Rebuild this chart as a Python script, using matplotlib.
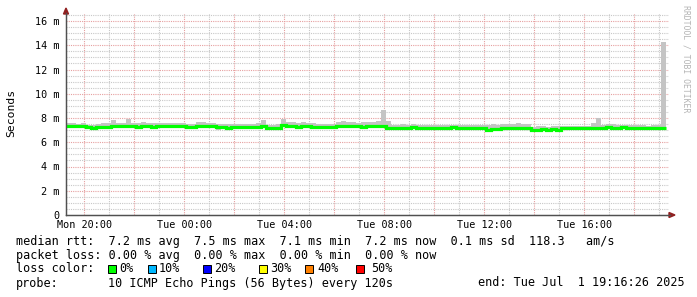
import numpy as np
import matplotlib
matplotlib.use("Agg")
import matplotlib.pyplot as plt
from matplotlib.patches import Rectangle, Polygon

# ---------------- data (24 h, 12-minute bins) ----------------
t_start = 19 + 16 / 60 + 26 / 3600      # Mon 19:16:26 (hours since Mon 00:00)
t_end = t_start + 24.0                  # Tue 19:16:26

median_ms = [
    7.36, 7.38, 7.34, 7.36, 7.22, 7.20, 7.24, 7.26, 7.25, 7.32,
    7.34, 7.30, 7.33, 7.30, 7.28, 7.32, 7.30, 7.27, 7.30, 7.37,
    7.38, 7.35, 7.37, 7.36, 7.25, 7.24, 7.35, 7.34, 7.36, 7.33,
    7.22, 7.24, 7.21, 7.23, 7.27, 7.26, 7.28, 7.25, 7.27, 7.30,
    7.15, 7.14, 7.16, 7.45, 7.30, 7.32, 7.29, 7.31, 7.30, 7.28,
    7.28, 7.27, 7.29, 7.28, 7.30, 7.32, 7.30, 7.30, 7.31, 7.29,
    7.30, 7.32, 7.33, 7.32, 7.20, 7.20, 7.19, 7.21, 7.20, 7.22,
    7.20, 7.19, 7.21, 7.20, 7.21, 7.19, 7.20, 7.22, 7.20, 7.19,
    7.20, 7.21, 7.20, 7.19, 7.05, 7.06, 7.07, 7.15, 7.17, 7.16,
    7.18, 7.20, 7.19, 7.05, 7.04, 7.06, 7.05, 7.07, 7.05, 7.15,
    7.14, 7.16, 7.15, 7.14, 7.16, 7.18, 7.20, 7.20, 7.22, 7.21,
    7.20, 7.22, 7.21, 7.20, 7.21, 7.20, 7.19, 7.20, 7.21, 7.20,
]
smoke_hi = [
    7.55, 7.62, 7.52, 7.58, 7.45, 7.42, 7.50, 7.58, 7.55, 7.85,
    7.60, 7.62, 7.88, 7.60, 7.55, 7.65, 7.58, 7.62, 7.55, 7.58,
    7.60, 7.55, 7.62, 7.58, 7.50, 7.48, 7.65, 7.70, 7.60, 7.62,
    7.50, 7.48, 7.52, 7.50, 7.50, 7.52, 7.48, 7.50, 7.55, 7.85,
    7.45, 7.42, 7.48, 7.88, 7.65, 7.70, 7.60, 7.68, 7.62, 7.60,
    7.50, 7.52, 7.48, 7.50, 7.70, 7.72, 7.68, 7.65, 7.62, 7.68,
    7.65, 7.70, 7.72, 8.68, 7.75, 7.45, 7.42, 7.48, 7.45, 7.50,
    7.44, 7.42, 7.46, 7.42, 7.45, 7.40, 7.44, 7.42, 7.46, 7.40,
    7.43, 7.42, 7.45, 7.41, 7.45, 7.50, 7.42, 7.48, 7.52, 7.50,
    7.55, 7.50, 7.52, 7.28, 7.30, 7.32, 7.28, 7.30, 7.30, 7.35,
    7.38, 7.34, 7.36, 7.35, 7.38, 7.55, 8.00, 7.45, 7.48, 7.50,
    7.44, 7.46, 7.45, 7.40, 7.42, 7.40, 7.38, 7.42, 7.45, 14.30,
]
smoke_lo = [
    7.20, 7.22, 7.18, 7.20, 7.06, 7.04, 7.08, 7.10, 7.10, 7.16,
    7.18, 7.14, 7.16, 7.14, 7.12, 7.16, 7.14, 7.10, 7.14, 7.22,
    7.22, 7.20, 7.22, 7.20, 7.08, 7.08, 7.18, 7.18, 7.20, 7.16,
    7.05, 7.08, 7.04, 7.06, 7.10, 7.10, 7.12, 7.08, 7.10, 7.14,
    6.98, 6.98, 7.00, 7.28, 7.14, 7.16, 7.12, 7.14, 7.14, 7.12,
    7.12, 7.10, 7.12, 7.12, 7.14, 7.16, 7.14, 7.14, 7.14, 7.12,
    7.14, 7.16, 7.16, 7.14, 7.04, 7.04, 7.02, 7.04, 7.04, 7.06,
    7.04, 7.02, 7.04, 7.04, 7.04, 7.02, 7.04, 7.06, 7.04, 7.02,
    7.04, 7.04, 7.04, 7.02, 6.88, 6.90, 6.90, 6.98, 7.00, 7.00,
    7.02, 7.04, 7.02, 6.88, 6.88, 6.90, 6.88, 6.90, 6.88, 6.98,
    6.98, 7.00, 6.98, 6.98, 7.00, 7.02, 7.04, 7.04, 7.06, 7.04,
    7.04, 7.06, 7.04, 7.04, 7.04, 7.04, 7.02, 7.04, 7.04, 7.04,
]

y_ticks = [0, 2, 4, 6, 8, 10, 12, 14, 16]
y_tick_labels = ["0", "2 m", "4 m", "6 m", "8 m", "10 m", "12 m", "14 m", "16 m"]
x_ticks = [20, 24, 28, 32, 36, 40]
x_tick_labels = ["Mon 20:00", "Tue 00:00", "Tue 04:00", "Tue 08:00", "Tue 12:00", "Tue 16:00"]

loss_labels = ["0%", "10%", "20%", "30%", "40%", "50%"]
loss_colors = ["#00ff00", "#00b8ff", "#0000ff", "#ffff00", "#ff8000", "#ff0000"]

legend_rtt = "median rtt:  7.2 ms avg  7.5 ms max  7.1 ms min  7.2 ms now  0.1 ms sd  118.3   am/s"
legend_loss = "packet loss: 0.00 % avg  0.00 % max  0.00 % min  0.00 % now"
probe_text = "10 ICMP Echo Pings (56 Bytes) every 120s"
end_text = "end: Tue Jul  1 19:16:26 2025"

# ---------------- figure ----------------
W, H = 697, 297
MONO = "DejaVu Sans Mono"
fig = plt.figure(figsize=(W / 100, H / 100), dpi=100)
fig.patch.set_facecolor("white")

L, R, T, B = 66, 669, 13, 215
ax = fig.add_axes([L / W, (H - B) / H, (R - L) / W, (B - T) / H])
ax.set_facecolor("white")
px_per_h = 25.0
px_per_m = 12.125
ax.set_xlim(t_start, t_start + (R - L) / px_per_h)
ax.set_ylim(0, (B - T) / px_per_m)

# grid
dot = (0, (1, 1))
for h in range(20, 44):
    if h % 2 == 0:
        ax.axvline(h, color="#e6a0a0", lw=0.8, ls=dot, zorder=1)
    else:
        ax.axvline(h, color="#c8c8c8", lw=0.8, ls=dot, zorder=1)
for k in range(1, 34):
    v = k * 0.5
    if k % 4 == 0:
        ax.axhline(v, color="#e6a0a0", lw=0.8, ls=dot, zorder=1)
    else:
        ax.axhline(v, color="#c8c8c8", lw=0.8, ls=dot, zorder=1)

edges = np.linspace(t_start, t_end, len(median_ms) + 1)
ax.stairs(smoke_hi, edges, baseline=smoke_lo, fill=True, color="#c4c4c4", lw=0, zorder=2)
ax.stairs(median_ms, edges, baseline=None, color="#00ff00", lw=2.3, zorder=3)

# axes
for s in ["top", "right"]:
    ax.spines[s].set_visible(False)
for s in ["left", "bottom"]:
    ax.spines[s].set_color("#505050")
    ax.spines[s].set_linewidth(0.9)
ax.set_yticks(y_ticks)
ax.set_yticklabels(y_tick_labels, fontfamily=MONO, fontsize=7.3)
ax.set_xticks(x_ticks)
ax.set_xticklabels(x_tick_labels, fontfamily=MONO, fontsize=7.3)
ax.tick_params(axis="y", length=0, pad=4.5)
ax.tick_params(axis="x", length=0, pad=3.5)

# arrows
def fx(x):
    return x / W
def fy(y):
    return 1 - y / H
arrow_col = "#902020"
fig.patches.append(Polygon([[fx(63.5), fy(14)], [fx(68.5), fy(14)], [fx(66), fy(8)]],
                           closed=True, transform=fig.transFigure, color=arrow_col))
fig.patches.append(Polygon([[fx(669), fy(212.5)], [fx(669), fy(217.5)], [fx(675), fy(215)]],
                           closed=True, transform=fig.transFigure, color=arrow_col))
fig.add_artist(plt.Line2D([fx(66), fx(66)], [fy(215), fy(13)], color="#505050", lw=0.9,
                          transform=fig.transFigure))
fig.add_artist(plt.Line2D([fx(66), fx(670)], [fy(215), fy(215)], color="#505050", lw=0.9,
                          transform=fig.transFigure))

# y label + watermark
fig.text(fx(11), fy(113), "Seconds", rotation=90, ha="center", va="center",
         fontfamily=MONO, fontsize=8.2)
fig.text(fx(686), fy(5), "RRDTOOL / TOBI OETIKER", rotation=270, ha="center", va="top",
         fontfamily=MONO, fontsize=5.9, color="#b4b4b4")

# legend
FS = 8.5
fig.text(fx(16), fy(241), legend_rtt, ha="left", va="center", fontfamily=MONO, fontsize=FS)
fig.text(fx(16), fy(255), legend_loss, ha="left", va="center", fontfamily=MONO, fontsize=FS)
fig.text(fx(16), fy(269), "loss color:", ha="left", va="center", fontfamily=MONO, fontsize=FS)
box_x = [108, 148, 203, 259, 305, 356]
text_x = [119, 159, 214, 270, 317, 371]
for bx, tx, lab, col in zip(box_x, text_x, loss_labels, loss_colors):
    fig.patches.append(Rectangle((fx(bx), fy(273)), 8 / W, 8 / H, transform=fig.transFigure,
                                 facecolor=col, edgecolor="black", lw=0.7))
    fig.text(fx(tx), fy(269), lab, ha="left", va="center", fontfamily=MONO, fontsize=FS)
fig.text(fx(16), fy(283), "probe:", ha="left", va="center", fontfamily=MONO, fontsize=FS)
fig.text(fx(108), fy(283), probe_text, ha="left", va="center", fontfamily=MONO, fontsize=FS)
fig.text(fx(478), fy(283), end_text, ha="left", va="center", fontfamily=MONO, fontsize=FS)

fig.savefig("out.png", dpi=100, facecolor="white")
